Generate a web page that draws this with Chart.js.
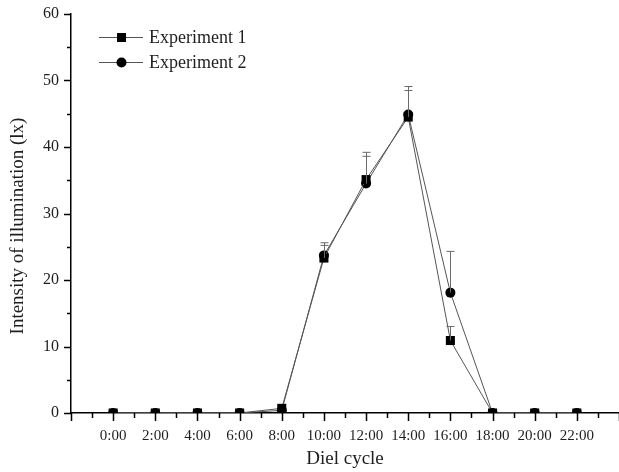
<!DOCTYPE html>
<html>
<head>
<meta charset="utf-8">
<script src="https://cdn.jsdelivr.net/npm/chart.js@4.4.1/dist/chart.umd.min.js"></script>
<style>
  html, body { margin: 0; padding: 0; background: #fff; }
  #wrap { width: 619px; height: 472px; }
</style>
</head>
<body>
<div id="wrap"><canvas id="chart" width="619" height="472"></canvas></div>
<script>
// data
let hours = [0, 2, 4, 6, 8, 10, 12, 14, 16, 18, 20, 22];
let hourLabels = ["0:00", "2:00", "4:00", "6:00", "8:00", "10:00", "12:00", "14:00", "16:00", "18:00", "20:00", "22:00"];
let exp1 = [0, 0, 0, 0, 0.7, 23.3, 35.1, 44.5, 10.9, 0, 0, 0];
let exp2 = [0, 0, 0, 0, 0.4, 23.7, 34.5, 44.9, 18.1, 0, 0, 0];
let err1 = [0, 0, 0, 0, 0, 1.9, 3.5, 4.0, 2.1, 0, 0, 0];
let err2 = [0, 0, 0, 0, 0, 1.9, 4.7, 4.2, 6.2, 0, 0, 0];
let yTicks = [0, 10, 20, 30, 40, 50, 60];

const serif = "'Liberation Serif', 'Times New Roman', serif";
const ink = "#1e1e1e";

function points(vals) {
    return hours.map((h, i) => ({ x: h, y: vals[i] }));
}

// one-sided (upward) error bars
const errorBars = {
    id: "errorBars",
    afterDatasetsDraw(chart) {
        const x = chart.scales.x, y = chart.scales.y, ctx = chart.ctx;
        ctx.save();
        ctx.strokeStyle = "#6a6a6a";
        ctx.lineWidth = 1;
        [[exp1, err1], [exp2, err2]].forEach(([vals, errs]) => {
            vals.forEach((v, i) => {
                if (!errs[i]) return;
                const px = Math.round(x.getPixelForValue(hours[i])) + 0.5;
                const top = y.getPixelForValue(v + errs[i]);
                const bot = y.getPixelForValue(v);
                ctx.beginPath();
                ctx.moveTo(px, bot);
                ctx.lineTo(px, top);
                ctx.moveTo(px - 4, top);
                ctx.lineTo(px + 4, top);
                ctx.stroke();
            });
        });
        ctx.restore();
    }
};

// tick marks, axis titles and legend
const decor = {
    id: "decor",
    afterDraw(chart) {
        const x = chart.scales.x, y = chart.scales.y, ctx = chart.ctx;
        const area = chart.chartArea;
        ctx.save();
        ctx.strokeStyle = "#000";
        ctx.lineWidth = 1.5;
        ctx.beginPath();
        for (let v = 0; v <= 60; v += 5) {
            const py = Math.round(y.getPixelForValue(v)) + 0.5;
            const len = v % 10 === 0 ? 7 : 4;
            ctx.moveTo(area.left, py);
            ctx.lineTo(area.left - len, py);
        }
        for (let h = -2; h <= 24; h++) {
            const px = Math.round(x.getPixelForValue(h)) + 0.5;
            const len = h % 2 === 0 ? 8 : 5;
            ctx.moveTo(px, area.bottom);
            ctx.lineTo(px, area.bottom + len);
        }
        ctx.stroke();

        // axis titles
        ctx.fillStyle = ink;
        ctx.font = "19px " + serif;
        ctx.textAlign = "center";
        ctx.textBaseline = "middle";
        ctx.fillText("Diel cycle", (area.left + area.right) / 2, 459);
        ctx.save();
        ctx.translate(18, 226);
        ctx.rotate(-Math.PI / 2);
        ctx.fillText("Intensity of illumination (lx)", 0, 0);
        ctx.restore();

        // legend
        const rows = [
            { text: "Experiment 1", style: "rect", y: 37 },
            { text: "Experiment 2", style: "circle", y: 62 }
        ];
        ctx.font = "18px " + serif;
        ctx.textAlign = "left";
        rows.forEach(r => {
            ctx.strokeStyle = "#555";
            ctx.lineWidth = 1;
            ctx.beginPath();
            ctx.moveTo(99, r.y + 0.5);
            ctx.lineTo(143, r.y + 0.5);
            ctx.stroke();
            ctx.fillStyle = "#000";
            if (r.style === "rect") {
                ctx.fillRect(117, r.y - 4, 9, 9);
            } else {
                ctx.beginPath();
                ctx.arc(121.5, r.y + 0.5, 5, 0, Math.PI * 2);
                ctx.fill();
            }
            ctx.fillStyle = ink;
            ctx.fillText(r.text, 149, r.y + 1);
        });
        ctx.restore();
    }
};

new Chart(document.getElementById("chart"), {
    type: "line",
    data: {
        datasets: [
            {
                label: "Experiment 1",
                data: points(exp1),
                borderColor: "#555",
                borderWidth: 1,
                pointStyle: "rect",
                pointRadius: 6.4,
                pointBackgroundColor: "#000",
                pointBorderColor: "#000",
                pointBorderWidth: 0,
                tension: 0
            },
            {
                label: "Experiment 2",
                data: points(exp2),
                borderColor: "#555",
                borderWidth: 1,
                pointStyle: "circle",
                pointRadius: 5,
                pointBackgroundColor: "#000",
                pointBorderColor: "#000",
                pointBorderWidth: 0,
                tension: 0
            }
        ]
    },
    options: {
        responsive: false,
        animation: false,
        events: [],
        layout: { autoPadding: false, padding: { top: 14, right: 0, left: 0, bottom: 0 } },
        plugins: { legend: { display: false }, tooltip: { enabled: false } },
        scales: {
            x: {
                type: "linear",
                min: -2,
                max: 24,
                grid: { display: false, drawTicks: false },
                border: { display: true, color: "#000", width: 1.5 },
                ticks: {
                    stepSize: 2,
                    padding: 14,
                    color: ink,
                    font: { family: serif, size: 15 },
                    maxRotation: 0,
                    autoSkip: false,
                    callback: v => {
                        const i = hours.indexOf(v);
                        return i >= 0 ? hourLabels[i] : "";
                    }
                },
                afterFit: s => {
                    s.height = 59;
                    s.paddingLeft = 0;
                    s.paddingRight = 0;
                }
            },
            y: {
                min: 0,
                max: 60,
                grid: { display: false, drawTicks: false },
                border: { display: true, color: "#000", width: 1.5 },
                ticks: {
                    stepSize: 10,
                    padding: 12,
                    color: ink,
                    font: { family: serif, size: 16 },
                    callback: v => yTicks.includes(v) ? String(v) : ""
                },
                afterFit: s => {
                    s.width = 71;
                    s.paddingTop = 0;
                    s.paddingBottom = 0;
                }
            }
        }
    },
    plugins: [errorBars, decor]
});
</script>
</body>
</html>
